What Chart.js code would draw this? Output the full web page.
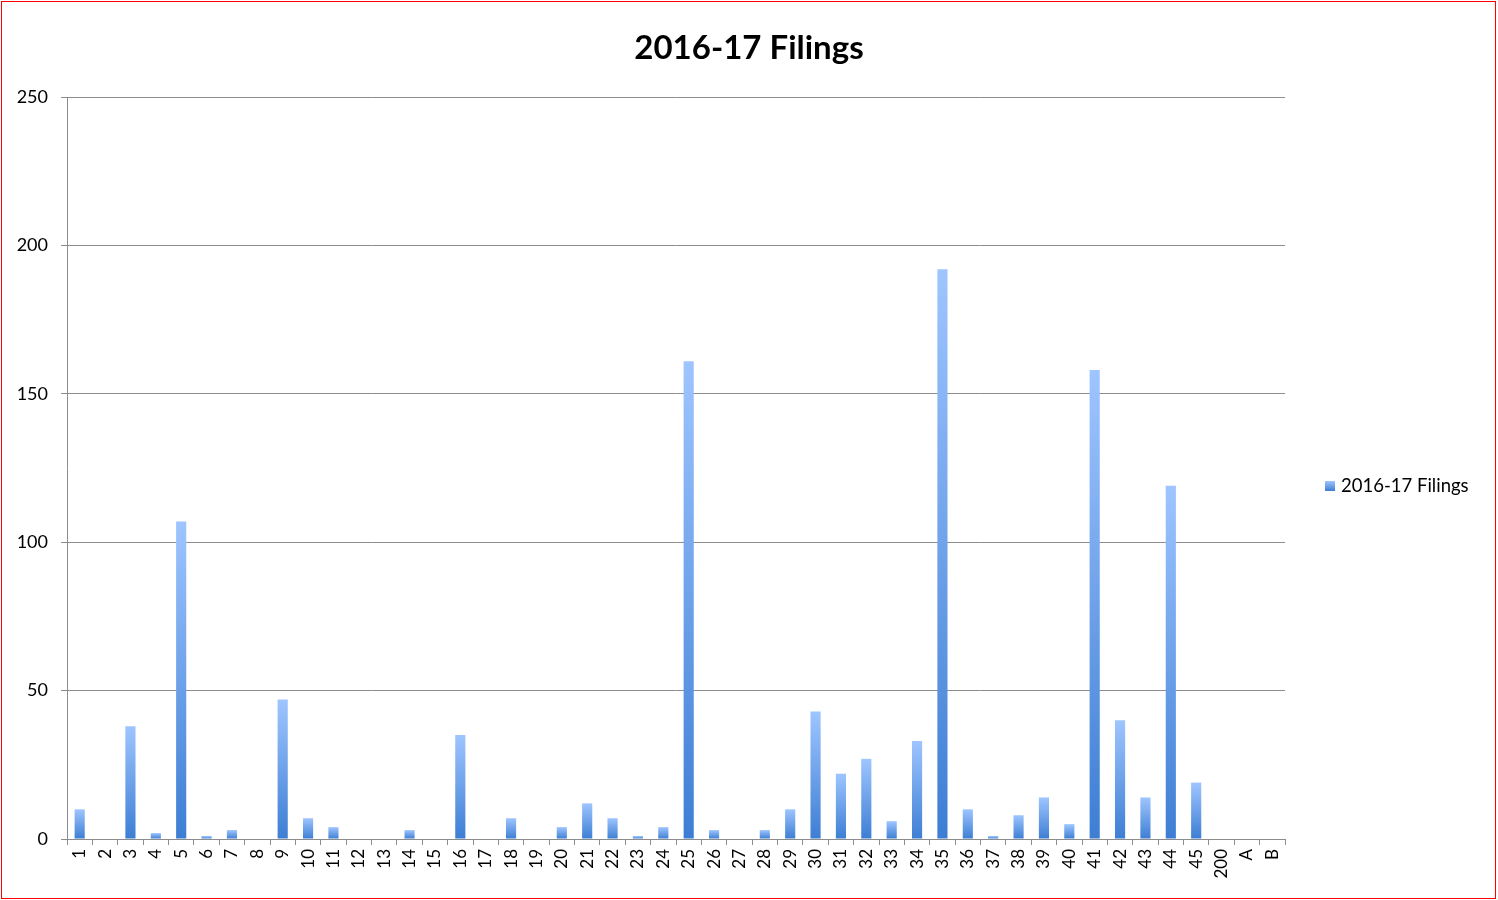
<!DOCTYPE html>
<html>
<head>
<meta charset="utf-8">
<script src="https://cdn.jsdelivr.net/npm/chart.js@4.4.1/dist/chart.umd.min.js"></script>
<style>
  body { margin: 0; background: #fff; }
  #wrap { position: relative; width: 1498px; height: 900px; }
  #frame { position: absolute; left: 1px; top: 1px; width: 1495px; height: 898px; box-sizing: border-box; border: 1px solid #ff0000; pointer-events: none; }
</style>
</head>
<body>
<div id="wrap">
  <canvas id="myChart" width="1498" height="900"></canvas>
  <div id="frame"></div>
</div>
<script>
const labels = [
  '1', '2', '3', '4', '5', '6', '7', '8', '9', '10',
  '11', '12', '13', '14', '15', '16', '17', '18', '19', '20',
  '21', '22', '23', '24', '25', '26', '27', '28', '29', '30',
  '31', '32', '33', '34', '35', '36', '37', '38', '39', '40',
  '41', '42', '43', '44', '45', '200', 'A', 'B',
];

const filings = [
  10, 0, 38, 2, 107, 1, 3, 0, 47, 7,
  4, 0, 0, 3, 0, 35, 0, 7, 0, 4,
  12, 7, 1, 4, 161, 3, 0, 3, 10, 43,
  22, 27, 6, 33, 192, 10, 1, 8, 14, 5,
  158, 40, 14, 119, 19, 0, 0, 0,
];

const yTicks = [0, 50, 100, 150, 200, 250];

const TITLE = '2016-17 Filings';
const FONT = 'Lato, "Open Sans", sans-serif';
const TOP_BLUE = '#9ec5ff';
const BOTTOM_BLUE = '#3d7ed4';

// gradient per bar: light at the top, dark at the base
const barFill = (ctx) => {
  const chart = ctx.chart;
  if (ctx.type !== 'data' || !chart.chartArea) return BOTTOM_BLUE;
  const y = chart.scales.y;
  const top = y.getPixelForValue(ctx.raw);
  const base = y.getPixelForValue(0);
  if (base - top < 1) return BOTTOM_BLUE;
  const g = chart.ctx.createLinearGradient(0, top, 0, base);
  g.addColorStop(0, TOP_BLUE);
  g.addColorStop(1, BOTTOM_BLUE);
  return g;
};

// title centred on the whole page, legend to the right of the plot
const titleAndLegend = {
  id: 'titleAndLegend',
  afterDraw(chart) {
    const c = chart.ctx;
    c.save();
    c.fillStyle = '#000';
    c.textAlign = 'center';
    c.textBaseline = 'middle';
    c.font = 'bold 33px ' + FONT;
    c.fillText(TITLE, chart.width / 2, 48);

    const ds = chart.data.datasets[0];
    const bx = chart.chartArea.right + 40;
    const by = 486;
    const g = c.createLinearGradient(0, by - 5, 0, by + 5);
    g.addColorStop(0, TOP_BLUE);
    g.addColorStop(1, BOTTOM_BLUE);
    c.fillStyle = g;
    c.fillRect(bx, by - 5, 10, 10);
    c.fillStyle = '#000';
    c.textAlign = 'left';
    c.font = '18.5px ' + FONT;
    c.fillText(ds.label, bx + 16, by);
    c.restore();
  }
};

const data = {
  labels: labels,
  datasets: [{
    label: '2016-17 Filings',
    data: filings,
    backgroundColor: barFill,
    borderWidth: 0,
    barPercentage: 0.4,
    categoryPercentage: 1,
  }]
};

const config = {
  type: 'bar',
  data,
  plugins: [titleAndLegend],
  options: {
    responsive: false,
    animation: false,
    layout: { padding: { left: 0, right: 213, top: 97, bottom: 0 } },
    plugins: {
      title: { display: false },
      legend: { display: false },
      tooltip: { enabled: false },
    },
    scales: {
      x: {
        offset: true,
        grid: {
          offset: true,
          drawOnChartArea: false,
          drawTicks: true,
          tickLength: 6,
          color: '#8c8c8c',
        },
        border: { color: '#8c8c8c' },
        ticks: {
          color: '#000',
          font: { family: FONT, size: 17 },
          minRotation: 90,
          maxRotation: 90,
          autoSkip: false,
          padding: 4,
        },
        afterFit: (scale) => { scale.height = 61; },
      },
      y: {
        min: 0,
        max: 250,
        afterBuildTicks: (scale) => { scale.ticks = yTicks.map(v => ({ value: v })); },
        grid: { color: '#8c8c8c', tickLength: 6 },
        border: { color: '#8c8c8c' },
        ticks: {
          color: '#000',
          font: { family: FONT, size: 18 },
          padding: 13,
        },
        afterFit: (scale) => { scale.width = 67; },
      },
    },
  },
};

var myChart = new Chart(document.getElementById('myChart'), config);
</script>
</body>
</html>
